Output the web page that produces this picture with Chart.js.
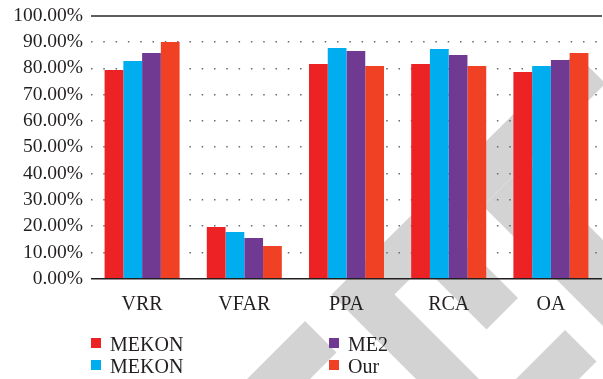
<!DOCTYPE html>
<html>
<head>
<meta charset="utf-8">
<script src="https://cdn.jsdelivr.net/npm/chart.js@4.4.1/dist/chart.umd.min.js"></script>
<style>
  html, body { margin: 0; padding: 0; background: #ffffff; }
  #wrap { width: 603px; height: 379px; position: relative; }
</style>
</head>
<body>
<div id="wrap"><canvas id="c" width="603" height="379"></canvas></div>
<script>
// Categories and series (percent values)
const categories = ['VRR', 'VFAR', 'PPA', 'RCA', 'OA'];
const seriesNames = ['MEKON', 'MEKON', 'ME2', 'Our'];
const mekonA = [79.4, 19.7, 81.6, 81.6, 78.6];
const mekonB = [82.8, 17.8, 87.7, 87.3, 80.9];
const me2    = [85.8, 15.5, 86.6, 85.1, 83.2];
const our    = [90.0, 12.4, 80.9, 80.9, 85.8];
const yTickLabels = ['0.00%', '10.00%', '20.00%', '30.00%', '40.00%', '50.00%',
                     '60.00%', '70.00%', '80.00%', '90.00%', '100.00%'];

const seriesColors = ['#ED2224', '#00AEEF', '#713A92', '#F04124'];
const textColor = '#231F20';
const serif = "'Liberation Serif', 'Times New Roman', serif";

// Light grey diagonal pattern behind the plot
const backdropShapes = [
  [[305, 321], [336.5, 352.5], [269, 420], [206, 420]],
  [[575, 53], [605.5, 83.5], [394.5, 294.5], [520, 420], [457, 420], [331.5, 294.5]],
  [[526, 163], [700, 337], [700, 423], [483, 206]],
  [[454.5, 234.5], [518, 298], [486.5, 329.5], [423, 266]],
  [[565, 330], [596.5, 361.5], [538, 420], [475, 420]]
];

const backdropPlugin = {
  id: 'backdrop',
  beforeDraw(chart) {
    const ctx = chart.ctx;
    ctx.save();
    ctx.fillStyle = '#D3D3D3';
    backdropShapes.forEach(poly => {
      ctx.beginPath();
      poly.forEach(([x, y], i) => (i ? ctx.lineTo(x, y) : ctx.moveTo(x, y)));
      ctx.closePath();
      ctx.fill();
    });
    ctx.restore();
  }
};

// Two-column legend below the axis (column-major order)
const legendSlots = [[91, 338], [91, 360], [329, 338], [329, 360]];
const gridLegendPlugin = {
  id: 'gridLegend',
  afterDraw(chart) {
    const ctx = chart.ctx;
    ctx.save();
    ctx.font = '20px ' + serif;
    ctx.textBaseline = 'alphabetic';
    ctx.textAlign = 'left';
    chart.data.datasets.forEach((ds, i) => {
      const [x, y] = legendSlots[i];
      ctx.fillStyle = ds.backgroundColor;
      ctx.fillRect(x, y, 10, 10);
      ctx.fillStyle = textColor;
      ctx.fillText(ds.label, x + 19, y + 12.5);
    });
    ctx.restore();
  }
};

const seriesValues = [mekonA, mekonB, me2, our];

new Chart(document.getElementById('c'), {
  type: 'bar',
  data: {
    labels: categories,
    datasets: seriesValues.map((vals, i) => ({
      label: seriesNames[i],
      data: vals,
      backgroundColor: seriesColors[i],
      borderWidth: 0,
      categoryPercentage: 0.734,
      barPercentage: 1.0
    }))
  },
  options: {
    responsive: false,
    animation: false,
    devicePixelRatio: 1,
    layout: { padding: { top: 15.7, right: 1, left: 0, bottom: 0 } },
    plugins: {
      legend: { display: false },
      tooltip: { enabled: false }
    },
    scales: {
      x: {
        grid: { display: false },
        border: { display: false },
        ticks: {
          color: textColor,
          font: { family: serif, size: 20 },
          padding: 6,
          maxRotation: 0
        },
        afterFit(scale) { scale.height = 100.3; }
      },
      y: {
        min: 0,
        max: 100,
        ticks: {
          stepSize: 10,
          autoSkip: false,
          padding: 8,
          color: textColor,
          font: { family: serif, size: 19.5 },
          callback: (v, i) => yTickLabels[i]
        },
        grid: {
          drawTicks: false,
          color: c => c.tick.value === 0 ? '#231F20' : (c.tick.value === 100 ? '#5E5E5E' : '#6A6A6A'),
          lineWidth: c => c.tick.value === 0 ? 1.4 : (c.tick.value === 100 ? 2 : 1.5)
        },
        border: {
          display: false,
          dash: c => (c.tick && c.tick.value !== 0 && c.tick.value !== 100) ? [1.5, 10.8] : []
        },
        afterFit(scale) {
          scale.width = 91;
          scale.paddingTop = 0;
          scale.paddingBottom = 0;
        }
      }
    }
  },
  plugins: [backdropPlugin, gridLegendPlugin]
});
</script>
</body>
</html>
